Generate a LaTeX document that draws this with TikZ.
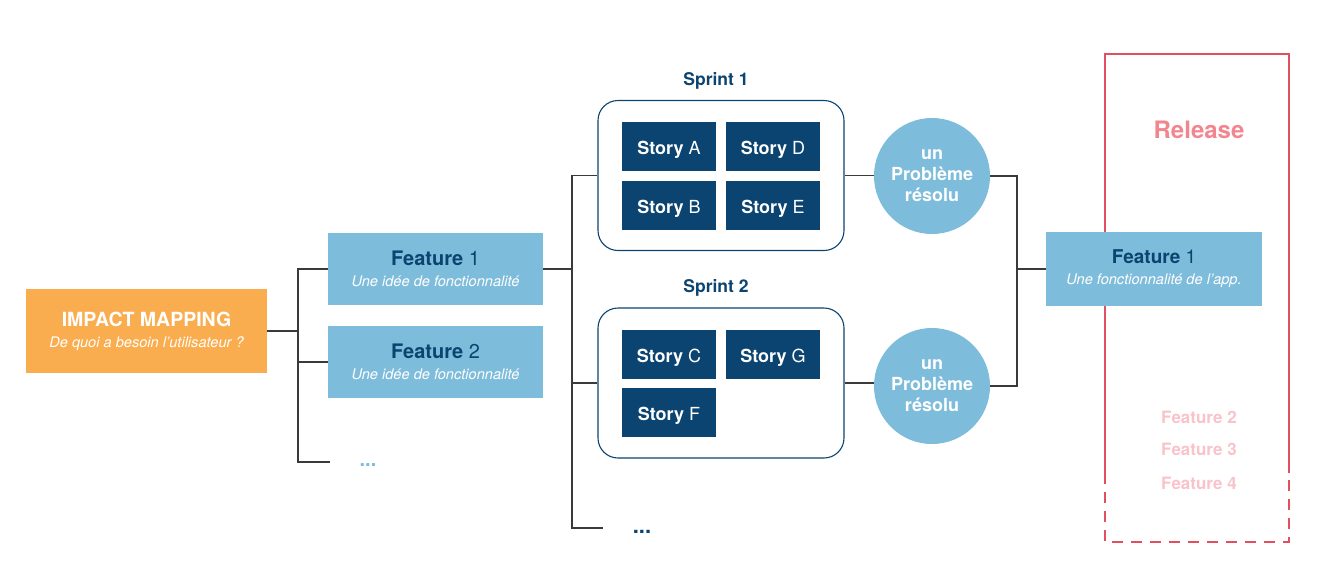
\documentclass[tikz,border=0pt]{standalone}
\usepackage{fontspec}
\setmainfont{TeX Gyre Heros}
\definecolor{orangebox}{HTML}{FAAD4E}
\definecolor{lightblue}{HTML}{7EBCDB}
\definecolor{navy}{HTML}{0B4470}
\definecolor{linegray}{HTML}{3A3A3A}
\definecolor{relred}{HTML}{E2505F}
\definecolor{relpink}{HTML}{F2868F}
\definecolor{palepink}{HTML}{F8C3CB}
\tikzset{
  conn/.style={draw=linegray, line width=1.1pt},
  impactbox/.style={fill=orangebox, minimum width=241pt, minimum height=84pt, inner sep=0pt, align=center, text=white, font=\fontsize{14.6}{20}\selectfont},
  featbox/.style={fill=lightblue, minimum width=215pt, minimum height=72pt, inner sep=0pt, align=center, text=white, font=\fontsize{14.6}{20}\selectfont},
  sprintbox/.style={draw=navy, line width=1.1pt, rounded corners=20pt, minimum width=246pt, minimum height=150pt, inner sep=0pt},
  storybox/.style={fill=navy, minimum width=94pt, minimum height=49pt, inner sep=0pt, text height=16pt, text depth=0pt, text=white, font=\fontsize{18}{21}\selectfont},
  probcircle/.style={circle, fill=lightblue, minimum size=116pt, inner sep=0pt, align=center, text=white, font=\fontsize{18}{21}\selectfont\bfseries},
  sprinttitle/.style={text=navy, font=\fontsize{17.5}{21}\selectfont\bfseries},
  laterfeat/.style={text=palepink, font=\fontsize{17}{21}\selectfont\bfseries}
}
\begin{document}
\begin{tikzpicture}[x=1pt,y=-1pt]
\useasboundingbox (0,0) rectangle (1332,582);
% release frame
\draw[relred, line width=1.1pt] (1105,473) -- (1105,54) -- (1289,54) -- (1289,473);
\draw[relred, line width=1.1pt, dash pattern=on 11pt off 8pt] (1105,473) -- (1105,542) -- (1289,542) -- (1289,473);
\node[text=relpink, font=\fontsize{24}{28}\selectfont\bfseries] (release) at (1199,130) {Release};
\node[laterfeat] (lf2) at (1199,417) {Feature 2};
\node[laterfeat] (lf3) at (1199,449) {Feature 3};
\node[laterfeat] (lf4) at (1199,483) {Feature 4};

% nodes
\node[impactbox] (impact) at (146.5,331) {{\fontsize{19.5}{20}\selectfont\bfseries IMPACT MAPPING}\\[1pt]\itshape De quoi a besoin l’utilisateur ?};
\node[featbox] (f1) at (435.5,269) {{\fontsize{20}{20}\selectfont\color{navy}\textbf{Feature} 1}\\[1pt]\itshape Une idée de fonctionnalité};
\node[featbox] (f2) at (435.5,362) {{\fontsize{20}{20}\selectfont\color{navy}\textbf{Feature} 2}\\[1pt]\itshape Une idée de fonctionnalité};
\node[text=lightblue, font=\fontsize{20}{20}\selectfont\bfseries] (dots1) at (368,465) {...};

\node[sprintbox] (s1) at (721,175.5) {};
\node[sprinttitle] (s1t) at (716,81) {Sprint 1};
\node[storybox] (sa) at (669,146.5) {\textbf{Story} A};
\node[storybox] (sd) at (773,146.5) {\textbf{Story} D};
\node[storybox] (sb) at (669,205) {\textbf{Story} B};
\node[storybox] (se) at (773,205) {\textbf{Story} E};

\node[sprintbox] (s2) at (721,383) {};
\node[sprinttitle] (s2t) at (716,288) {Sprint 2};
\node[storybox] (sc) at (669,354.5) {\textbf{Story} C};
\node[storybox] (sg) at (773,354.5) {\textbf{Story} G};
\node[storybox] (sf) at (669,412.5) {\textbf{Story} F};
\node[text=navy, font=\fontsize{22}{22}\selectfont\bfseries] (dots2) at (642,532) {...};

\node[probcircle] (c1) at (932,176) {un\\Problème\\résolu};
\node[probcircle] (c2) at (932,386) {un\\Problème\\résolu};

\node[featbox, minimum width=216pt, minimum height=74pt] (rf1) at (1154,269) {{\fontsize{19}{20}\selectfont\color{navy}\textbf{Feature} 1}\\[1pt]\itshape Une fonctionnalité de l’app.};

% connectors
\coordinate (j1) at (298,331);
\coordinate (e1) at (330,462);
\draw[conn] (impact.east) -- (j1);
\draw[conn] (j1) |- (f1.west);
\draw[conn] (j1) |- (f2.west);
\draw[conn] (j1) |- (e1);

\coordinate (j2) at (572,269);
\coordinate (e2) at (603,528);
\draw[conn] (f1.east) -- (j2);
\draw[conn] (j2) |- (s1.west);
\draw[conn] (j2) |- (s2.west);
\draw[conn] (j2) |- (e2);

\draw[conn] (s1.east) -- (s1.east -| c1.west);
\draw[conn] (s2.east) -- (s2.east -| c2.west);

\coordinate (j3) at (1017,269);
\draw[conn] (c1.east) -| (j3);
\draw[conn] (j3) |- (c2.east);
\draw[conn] (j3) -- (rf1.west);
\end{tikzpicture}
\end{document}
